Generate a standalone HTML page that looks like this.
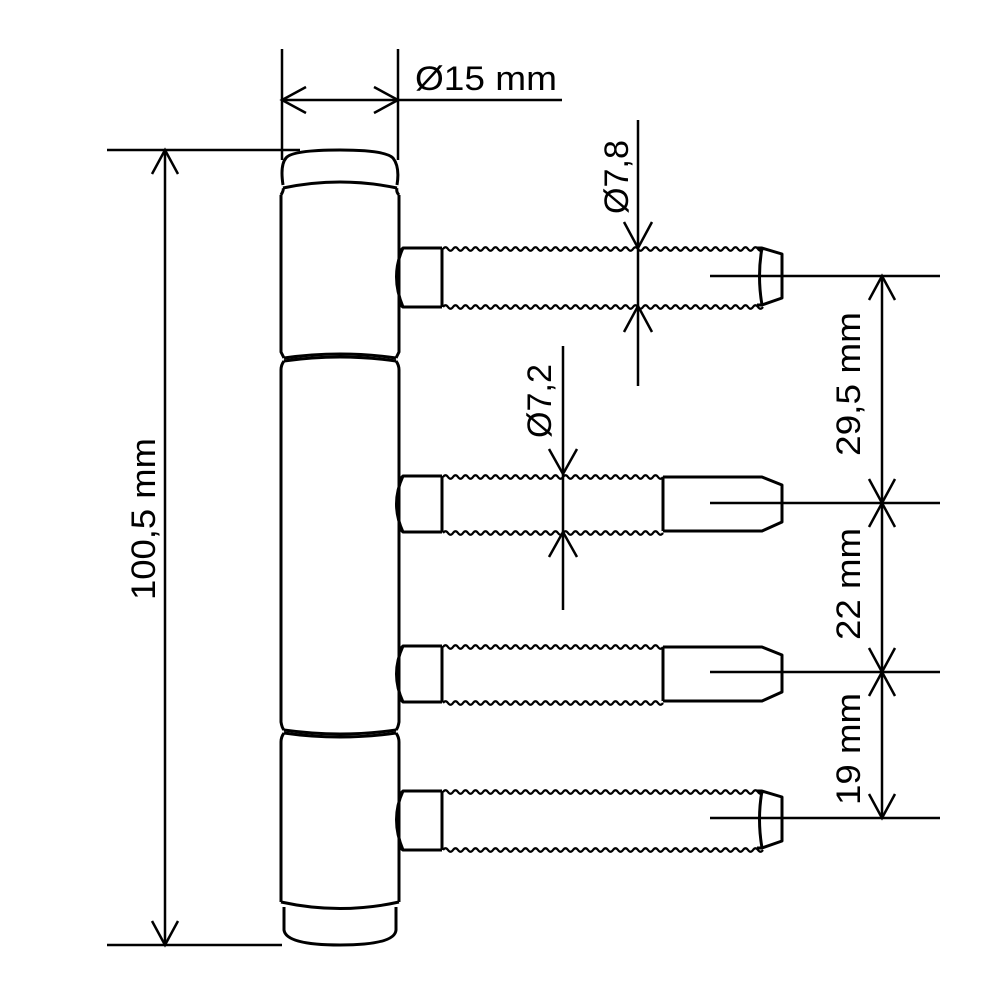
<!DOCTYPE html>
<html><head><meta charset="utf-8"><style>html,body{margin:0;padding:0;background:#fff}svg{display:block}</style></head>
<body>
<svg width="1000" height="1000" viewBox="0 0 1000 1000" xmlns="http://www.w3.org/2000/svg">
<defs>
<path id="w1" fill="none" stroke="#000" stroke-width="2.2" d="M0 0 q2.5 -3.5 5 0 t5 0 t5 0 t5 0 t5 0 t5 0 t5 0 t5 0 t5 0 t5 0 t5 0 t5 0 t5 0 t5 0 t5 0 t5 0 t5 0 t5 0 t5 0 t5 0 t5 0 t5 0 t5 0 t5 0 t5 0 t5 0 t5 0 t5 0 t5 0 t5 0 t5 0 t5 0 t5 0 t5 0 t5 0 t5 0 t5 0 t5 0 t5 0 t5 0 t5 0 t5 0 t5 0 t5 0 t5 0 t5 0 t5 0 t5 0 t5 0 t5 0 t5 0 t5 0 t5 0 t5 0 t5 0 t5 0 t5 0 t5 0 t5 0 t5 0 t5 0 t5 0 t5 0 t5 0"/>
<path id="w2" fill="none" stroke="#000" stroke-width="2.2" d="M0 0 q2.5 -3.5 5 0 t5 0 t5 0 t5 0 t5 0 t5 0 t5 0 t5 0 t5 0 t5 0 t5 0 t5 0 t5 0 t5 0 t5 0 t5 0 t5 0 t5 0 t5 0 t5 0 t5 0 t5 0 t5 0 t5 0 t5 0 t5 0 t5 0 t5 0 t5 0 t5 0 t5 0 t5 0 t5 0 t5 0 t5 0 t5 0 t5 0 t5 0 t5 0 t5 0 t5 0 t5 0 t5 0 t5 0"/>
</defs>
<g fill="none" stroke="#000" stroke-width="3" stroke-linejoin="round">
<path d="M283 185 Q280 165 286 158 Q292 150 340 150 Q385 150 393 158 Q400 167 397 185"/>
<path d="M283 188 Q340 176 397 188"/>
<path d="M281 195 Q284 190 283 188 M397 188 Q396 192 399 195"/>
<path d="M281 195 L281 352 Q283 356 284 358 M399 195 L399 352 Q397 356 396 358"/>
<path d="M284 358 Q340 350 396 358"/>
<path d="M284 361 Q340 353 396 361"/>
<path d="M284 361 Q281 365 281 370 L281 722 Q282 728 284 730 M396 361 Q399 365 399 370 L399 722 Q398 728 396 730"/>
<path d="M284 730 Q340 738 396 730"/>
<path d="M284 733 Q340 741 396 733"/>
<path d="M284 733 Q281 737 281 742 L281 902 M396 733 Q399 737 399 742 L399 902"/>
<path d="M281 902 Q340 915 399 902"/>
<path d="M284 907 L284 930 Q286 945 340 945 Q395 945 396 930 L396 907"/>
<g id="p1">
<path d="M399 252 L403 248 L442 248 M399 304 L403 307 L442 307"/>
<path d="M403 248 Q390 276 403 307"/>
<line x1="442" y1="248" x2="442" y2="307"/>
<path d="M757 248 L762 248 L782 254 L782 298 L762 305 L757 305"/>
<path d="M762 248 Q757 276 762 305"/>
</g>
<use href="#p1" transform="translate(0,543)"/>
<g id="p2">
<path d="M399 480 L403 476 L442 476 M399 528 L403 532 L442 532"/>
<path d="M403 476 Q390 504 403 532"/>
<line x1="442" y1="476" x2="442" y2="532"/>
<line x1="663" y1="477" x2="663" y2="531"/>
<path d="M663 477 L762 477 L782 485 L782 522 L762 531 L663 531"/>
</g>
<use href="#p2" transform="translate(0,170)"/>
</g>
<use href="#w1" x="443" y="249"/>
<use href="#w1" x="443" y="307"/>
<use href="#w1" x="443" y="792"/>
<use href="#w1" x="443" y="850"/>
<use href="#w2" x="443" y="477"/>
<use href="#w2" x="443" y="533"/>
<use href="#w2" x="443" y="647"/>
<use href="#w2" x="443" y="703"/>
<g fill="none" stroke="#000" stroke-width="2.5">
<line x1="107" y1="150" x2="300" y2="150"/>
<line x1="107" y1="945" x2="282" y2="945"/>
<line x1="165" y1="150" x2="165" y2="945"/>
<path d="M152 174 L165 150 L178 174 M152 921 L165 945 L178 921"/>
<line x1="282" y1="49" x2="282" y2="160"/>
<line x1="398" y1="49" x2="398" y2="160"/>
<line x1="282" y1="100" x2="562" y2="100"/>
<path d="M306 87 L282 100 L306 113 M374 87 L398 100 L374 113"/>
<line x1="638" y1="120" x2="638" y2="386"/>
<path d="M624 222 L638 248 L652 222 M624 332 L638 306 L652 332"/>
<line x1="563" y1="346" x2="563" y2="610"/>
<path d="M549 449 L563 474 L577 449 M549 557 L563 532 L577 557"/>
<line x1="710" y1="276" x2="940" y2="276"/>
<line x1="710" y1="503" x2="940" y2="503"/>
<line x1="710" y1="672" x2="940" y2="672"/>
<line x1="710" y1="818" x2="940" y2="818"/>
<line x1="882" y1="276" x2="882" y2="818"/>
<path d="M869 300 L882 276 L895 300 M869 479 L882 503 L895 479 M869 527 L882 503 L895 527 M869 648 L882 672 L895 648 M869 696 L882 672 L895 696 M869 794 L882 818 L895 794"/>
</g>
<g font-family="'Liberation Sans', 'DejaVu Sans', sans-serif" font-size="34" fill="#000">
<text x="415" y="90" textLength="142" lengthAdjust="spacingAndGlyphs">Ø15 mm</text>
<text transform="translate(155,600) rotate(-90)" textLength="162" lengthAdjust="spacingAndGlyphs">100,5 mm</text>
<text transform="translate(628,214) rotate(-90)" textLength="74" lengthAdjust="spacingAndGlyphs">Ø7,8</text>
<text transform="translate(551,438) rotate(-90)" textLength="74" lengthAdjust="spacingAndGlyphs">Ø7,2</text>
<text transform="translate(860,456) rotate(-90)" textLength="144" lengthAdjust="spacingAndGlyphs">29,5 mm</text>
<text transform="translate(860,640) rotate(-90)" textLength="112" lengthAdjust="spacingAndGlyphs">22 mm</text>
<text transform="translate(860,805) rotate(-90)" textLength="112" lengthAdjust="spacingAndGlyphs">19 mm</text>
</g>
</svg>
</body></html>
